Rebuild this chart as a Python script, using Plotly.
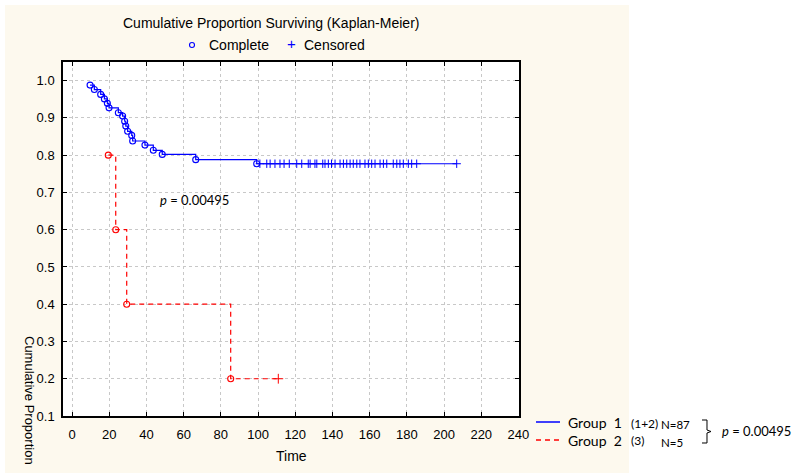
import plotly.graph_objects as go

# ---- data ----
g1_event_t = [9.7, 12.0, 15.4, 17.4, 19.0, 19.9, 24.9, 27.2, 28.3, 28.9, 29.9, 32.1, 32.6,
              39.2, 43.7, 48.5, 66.5, 99.3]
g1_event_s = [0.988, 0.976, 0.963, 0.951, 0.939, 0.927, 0.914, 0.905, 0.891, 0.878, 0.864,
              0.853, 0.838, 0.827, 0.813, 0.802, 0.788, 0.777]
g1_cens_t = [101, 104.7, 106.5, 109.1, 111.8, 114, 116.8, 120.8, 123.5, 127, 128, 130.6, 131.6,
             134.8, 136, 137.8, 139.5, 141.4, 144.1, 145.9, 147.7, 149.5, 151.2, 153.1, 154.8,
             157.5, 159.3, 161.1, 162.9, 165.6, 167.4, 169.2, 172.7, 174.6, 176.3, 178.1,
             180.8, 182.6, 185.3, 206.8]
g2_event_t = [19.5, 23.5, 29.4, 85.3]
g2_event_s = [0.8, 0.6, 0.4, 0.2]
g2_cens_t = [110.9]

x_ticks = [0, 20, 40, 60, 80, 100, 120, 140, 160, 180, 200, 220, 240]
y_ticks = [0.1, 0.2, 0.3, 0.4, 0.5, 0.6, 0.7, 0.8, 0.9, 1.0]
p_text = "0.00495"

BLUE = "#0000FF"
RED = "#FF0000"
CREAM = "#FDF9EE"

W, H = 792, 473
L, R, T, B = 63, 519, 62, 416


def px(x):
    return (x - L) / (R - L)


def py(y):
    return (B - y) / (B - T)


g1_last = g1_event_s[-1]
g2_last = g2_event_s[-1]

fig = go.Figure()

# group 1 step line
fig.add_trace(go.Scatter(
    x=g1_event_t + [g1_cens_t[-1]], y=g1_event_s + [g1_last],
    mode="lines", line=dict(color=BLUE, width=1.2, shape="hv"),
    hoverinfo="skip", showlegend=False))
fig.add_trace(go.Scatter(
    x=g1_event_t, y=g1_event_s, mode="markers",
    marker=dict(symbol="circle-open", size=6, color=BLUE, line=dict(width=1.1, color=BLUE)),
    showlegend=False))
fig.add_trace(go.Scatter(
    x=g1_cens_t, y=[g1_last] * len(g1_cens_t), mode="markers",
    marker=dict(symbol="cross-thin", size=6, color=BLUE, line=dict(width=1, color=BLUE)),
    showlegend=False))

# group 2
fig.add_trace(go.Scatter(
    x=g2_event_t + g2_cens_t, y=g2_event_s + [g2_last] * len(g2_cens_t),
    mode="lines", line=dict(color=RED, width=1.2, shape="hv", dash="5px,4px"),
    hoverinfo="skip", showlegend=False))
fig.add_trace(go.Scatter(
    x=g2_event_t, y=g2_event_s, mode="markers",
    marker=dict(symbol="circle-open", size=6, color=RED, line=dict(width=1.1, color=RED)),
    showlegend=False))
fig.add_trace(go.Scatter(
    x=g2_cens_t, y=[g2_last] * len(g2_cens_t), mode="markers",
    marker=dict(symbol="cross-thin", size=7, color=RED, line=dict(width=1, color=RED)),
    showlegend=False))

shapes = [
    dict(type="rect", xref="paper", yref="paper", x0=px(5), x1=px(629), y0=py(480), y1=py(5),
         fillcolor=CREAM, line=dict(width=0), layer="below"),
    dict(type="rect", xref="paper", yref="paper", x0=0, x1=1, y0=0, y1=1,
         fillcolor="white", line=dict(width=0), layer="below"),
    # top legend circle
    dict(type="circle", xref="paper", yref="paper", x0=px(189.5), x1=px(194.5),
         y0=py(47.5), y1=py(42.5), line=dict(color=BLUE, width=1.1)),
    # bottom legend lines
    dict(type="line", xref="paper", yref="paper", x0=px(536), x1=px(560), y0=py(422), y1=py(422),
         line=dict(color=BLUE, width=1.5)),
    dict(type="line", xref="paper", yref="paper", x0=px(536), x1=px(560), y0=py(440), y1=py(440),
         line=dict(color=RED, width=1.5, dash="5px,4px")),
]
brace_pts = [(702, 420), (707, 420), (707, 430), (711, 431.5), (707, 433), (707, 443), (702, 443)]
path = "M " + " L ".join(f"{px(a):.5f},{py(b):.5f}" for a, b in brace_pts)
shapes.append(dict(type="path", xref="paper", yref="paper", path=path,
                   line=dict(color="black", width=1)))

AF = "Liberation Sans, Arial, sans-serif"
LF = "Lato, sans-serif"


def ann(x, y, text, size=14, color="black", xanchor="left", font=AF, textangle=0):
    return dict(x=px(x), y=py(y), xref="paper", yref="paper", text=text, showarrow=False,
                xanchor=xanchor, yanchor="middle", textangle=textangle,
                font=dict(family=font, size=size, color=color))


annotations = [
    ann(271, 23, "Cumulative Proportion Surviving (Kaplan-Meier)", 14, xanchor="center"),
    ann(207, 45, "Complete", 14),
    ann(291, 44, "+", 15, color=BLUE, xanchor="center"),
    ann(302, 45, "Censored", 14),
    ann(291, 456, "Time", 14, xanchor="center"),
    ann(30, 400, "Cumulative Proportion", 13, xanchor="center", textangle=90),
    ann(566, 422, "Group\u00a0\u00a01", 14, font=LF),
    ann(629, 423, "(1+2)", 12, font=LF),
    ann(659, 424, "N=87", 11.5, font=LF),
    ann(566, 440, "Group\u00a0\u00a02", 14, font=LF),
    ann(629, 440, "(3)", 12, font=LF),
    ann(659, 442, "N=5", 11.5, font=LF),
    ann(720, 431, "<i>p</i> = " + p_text, 13, font=LF),
    dict(x=66, y=0.681, xref="x", yref="y", text="<i>p</i> = " + p_text, showarrow=False,
         xanchor="center", yanchor="middle", font=dict(family=LF, size=13, color="black")),
]

axis_common = dict(showline=True, linecolor="black", linewidth=1.5, mirror="ticks",
                   ticks="inside", ticklen=4, tickcolor="black", tickwidth=1,
                   showgrid=True, gridcolor="#c8c8c8", griddash="dot", gridwidth=1,
                   zeroline=False, tickfont=dict(family=AF, size=13, color="black"))

fig.update_layout(
    width=W, height=H,
    margin=dict(l=L, r=W - R, t=T, b=H - B, pad=0),
    paper_bgcolor="white", plot_bgcolor="white",
    shapes=shapes, annotations=annotations, showlegend=False,
    xaxis=dict(range=[-4.85, 240.3], tickmode="array", tickvals=x_ticks,
               ticktext=[str(v) for v in x_ticks], ticklabelstandoff=6, **axis_common),
    yaxis=dict(range=[0.1, 1.05], tickmode="array", tickvals=y_ticks,
               ticktext=[f"{v:.1f}" for v in y_ticks], ticklabelstandoff=4, **axis_common),
)

fig.write_html("out.html", config={"displayModeBar": False},
               post_script="document.body.style.margin='0';document.body.style.padding='0';"
                           "document.body.style.overflow='hidden';")
